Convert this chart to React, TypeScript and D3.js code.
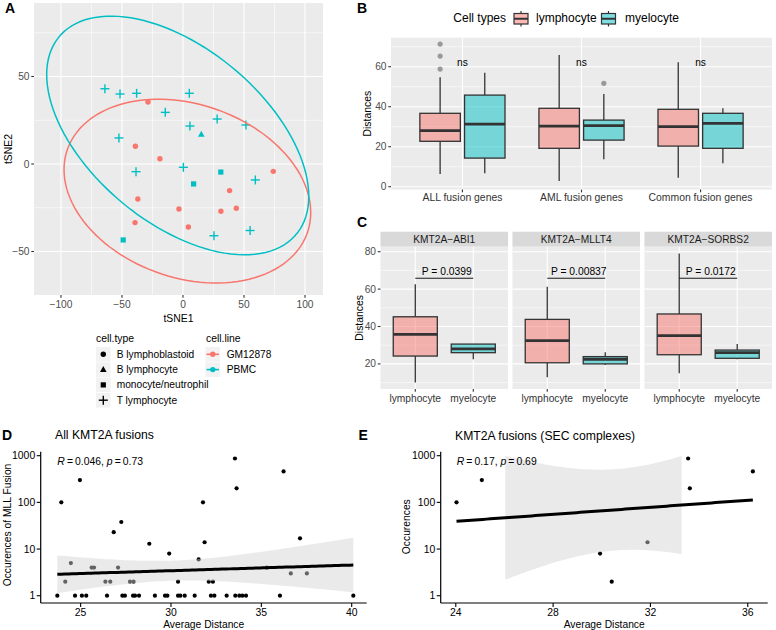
import React from "react";
import * as d3 from "d3";

const FONT = "'Liberation Sans', Arial, Helvetica, sans-serif";
const RED = "#F8766D";
const TEAL = "#00BFC4";
const PANEL_BG = "#EBEBEB";

// ---------------- Panel A data ----------------
const tsneX = [-64, -51.6, -38, 5.2, -14.5, 5.7, 28, 51.6, -52.5, -38.5, 0.3, 59.3, 25.4, 55,
  15, 31, 8.7, -49,
  -28.7, -39, -18.9, 74, 38.2, -37, -3.3, 31.1, 43.7, -39.3, 4.4];
const tsneY = [43, 40, 40.4, 40.4, 29.5, 21.7, 25.7, 22.3, 14.9, -4.4, -1.9, -9.1, -41, -38,
  17, -4.6, -11.4, -43.4,
  35.4, 10.1, 3.0, -4.2, -15.2, -20, -25.7, -27, -25.3, -33.5, -36];
const tsneType = [
  "T lymphocyte", "T lymphocyte", "T lymphocyte", "T lymphocyte", "T lymphocyte", "T lymphocyte", "T lymphocyte",
  "T lymphocyte", "T lymphocyte", "T lymphocyte", "T lymphocyte", "T lymphocyte", "T lymphocyte", "T lymphocyte",
  "B lymphocyte", "monocyte/neutrophil", "monocyte/neutrophil", "monocyte/neutrophil",
  "B lymphoblastoid", "B lymphoblastoid", "B lymphoblastoid", "B lymphoblastoid", "B lymphoblastoid", "B lymphoblastoid",
  "B lymphoblastoid", "B lymphoblastoid", "B lymphoblastoid", "B lymphoblastoid", "B lymphoblastoid"];
const tsneLine = [
  "PBMC", "PBMC", "PBMC", "PBMC", "PBMC", "PBMC", "PBMC", "PBMC", "PBMC", "PBMC", "PBMC", "PBMC", "PBMC", "PBMC",
  "PBMC", "PBMC", "PBMC", "PBMC",
  "GM12878", "GM12878", "GM12878", "GM12878", "GM12878", "GM12878", "GM12878", "GM12878", "GM12878", "GM12878", "GM12878"];
const cellTypes = ["B lymphoblastoid", "B lymphocyte", "monocyte/neutrophil", "T lymphocyte"];
const cellLines = ["GM12878", "PBMC"];
const tsneXTicks = [-100, -50, 0, 50, 100];
const tsneYTicks = [-50, 0, 50];
// 95% ellipses (centre and shape matrix, data units)
const ellLine = ["GM12878", "PBMC"];
const ellCx = [3.6, -4.3];
const ellCy = [-15.5, 16.3];
const ellSxx = [10221, 11535];
const ellSxy = [-1243.5, -3737.5];
const ellSyy = [2756, 4651];

// ---------------- Panel B data ----------------
const bCategories = ["ALL fusion genes", "AML fusion genes", "Common fusion genes"];
const bGroups = ["lymphocyte", "myelocyte"];
// [lower whisker, Q1, median, Q3, upper whisker]
const bLymph = [[6.3, 22.7, 28, 36.7, 54.7], [2.8, 19.2, 30.3, 39.2, 65.8], [4.5, 20.3, 30, 38.7, 62.2]];
const bMyelo = [[6.7, 14.3, 31.3, 45.8, 57], [13.7, 23.3, 30.5, 33.3, 46.3], [11.7, 19.2, 31.7, 36.7, 39.2]];
const bOutCat = [0, 0, 0, 1];
const bOutGroup = [0, 0, 0, 1];
const bOutVal = [58.8, 65.3, 71.3, 51.7];
const bSigLabels = ["ns", "ns", "ns"];
const bSigY = 62;
const bYTicks = [0, 20, 40, 60];

// ---------------- Panel C data ----------------
const cFacets = ["KMT2A\u2212ABI1", "KMT2A\u2212MLLT4", "KMT2A\u2212SORBS2"];
const cGroups = ["lymphocyte", "myelocyte"];
const cLymph = [[10, 24.2, 35.8, 45.2, 62.6], [12.8, 20.6, 32.4, 43.8, 61.3], [15, 24.9, 35.1, 46.7, 79.1]];
const cMyelo = [[22.5, 26, 28, 30.6, 30.6], [19.4, 20, 22.5, 23.9, 26.2], [22.5, 23, 26, 27.4, 30.6]];
const cPLabels = ["P = 0.0399", "P = 0.00837", "P = 0.0172"];
const cBracketY = 65.8;
const cYTicks = [20, 40, 60, 80];

// ---------------- Panel D data ----------------
const dDist = [23.93, 24.96, 26.83, 27.25, 28.8, 29.9, 31.53, 31.77, 31.86, 33.54, 33.63, 36.23, 37.14,
  24.15, 24.46, 25.61, 25.74, 26.37, 26.64, 27.07, 27.73, 27.93, 30.39, 32.09, 32.32, 35.3, 36.63, 37.52,
  23.71, 24.69, 25.07, 25.31, 26.46, 27.31, 27.45, 27.9, 28.01, 28.23, 29.11, 29.67, 29.8, 30.39, 30.52,
  30.76, 31.31, 32.21, 32.4, 33.08, 33.56, 33.78, 33.95, 34.15, 36.03, 40.09];
const dOcc = [100, 300, 23, 38, 13, 8, 6, 100, 14, 870, 200, 460, 17,
  2, 5, 4, 4, 2, 2, 4, 2, 2, 2, 2, 2, 4, 3, 3,
  1, 1, 1, 1, 1, 1, 1, 1, 1, 1, 1, 1, 1, 1, 1,
  1, 1, 1, 1, 1, 1, 1, 1, 1, 1, 1];
const dXTicks = [25, 30, 35, 40];

// ---------------- Panel E data ----------------
const eDist = [24.03, 25.07, 29.93, 30.41, 31.88, 33.55, 33.62, 36.21];
const eOcc = [100, 300, 8, 2, 14, 870, 200, 460];
const eXTicks = [24, 28, 32, 36];

const logYTicks = [1, 10, 100, 1000];
const occLimits = [1, 1000];

// ---------------- helpers ----------------
const fmtNum = (v: number) => (v < 0 ? "\u2212" + Math.abs(v) : String(v));

function tQuant975(df: number) {
  const z = 1.959964;
  const z3 = z ** 3, z5 = z ** 5, z7 = z ** 7, z9 = z ** 9;
  return z + (z3 + z) / (4 * df) + (5 * z5 + 16 * z3 + 3 * z) / (96 * df ** 2) +
    (3 * z7 + 19 * z5 + 17 * z3 - 15 * z) / (384 * df ** 3) +
    (79 * z9 + 776 * z7 + 1482 * z5 - 1920 * z3 - 945 * z) / (92160 * df ** 4);
}

function lmLog(xs: number[], ys: number[]) {
  const ly = ys.map((v) => Math.log10(v));
  const n = xs.length;
  const mx = d3.mean(xs) as number;
  const my = d3.mean(ly) as number;
  let sxx = 0, sxy = 0, syy = 0;
  xs.forEach((x, i) => {
    sxx += (x - mx) ** 2;
    sxy += (x - mx) * (ly[i] - my);
    syy += (ly[i] - my) ** 2;
  });
  const b = sxy / sxx;
  const a = my - b * mx;
  const s = Math.sqrt((syy - b * sxy) / (n - 2));
  const t = tQuant975(n - 2);
  const [x0, x1] = d3.extent(xs) as [number, number];
  return d3.range(80).map((i) => {
    const x = x0 + ((x1 - x0) * i) / 79;
    const f = a + b * x;
    const se = s * Math.sqrt(1 / n + (x - mx) ** 2 / sxx);
    return { x, f, lo: f - t * se, hi: f + t * se };
  });
}

function Shape({ type, x, y, color }: { type: string; x: number; y: number; color: string }) {
  if (type === "B lymphoblastoid") return <circle cx={x} cy={y} r={2.7} fill={color} />;
  if (type === "B lymphocyte")
    return <path d={`M${x},${y - 3.6}L${x + 3.3},${y + 2.4}L${x - 3.3},${y + 2.4}Z`} fill={color} />;
  if (type === "monocyte/neutrophil") return <rect x={x - 2.6} y={y - 2.6} width={5.2} height={5.2} fill={color} />;
  return (
    <g stroke={color} strokeWidth={1.4}>
      <line x1={x - 4.5} x2={x + 4.5} y1={y} y2={y} />
      <line x1={x} x2={x} y1={y - 4.5} y2={y + 4.5} />
    </g>
  );
}

function Box({ cx, w, s, y, fill }: { cx: number; w: number; s: number[]; y: (v: number) => number; fill: string }) {
  const [lo, q1, med, q3, hi] = s;
  return (
    <g>
      <line x1={cx} x2={cx} y1={y(hi)} y2={y(q3)} stroke="#333" strokeWidth={1.3} />
      <line x1={cx} x2={cx} y1={y(q1)} y2={y(lo)} stroke="#333" strokeWidth={1.3} />
      <rect x={cx - w / 2} y={y(q3)} width={w} height={y(q1) - y(q3)} fill={fill} fillOpacity={0.5}
        stroke="#333" strokeWidth={1.3} />
      <line x1={cx - w / 2} x2={cx + w / 2} y1={y(med)} y2={y(med)} stroke="#333" strokeWidth={2.8} />
    </g>
  );
}

export default function App() {
  // ---------- Panel A ----------
  const A = { l: 34, r: 323, t: 3, b: 295 };
  const xA = d3.scaleLinear().domain([-122.1, 114.75]).range([A.l, A.r]);
  const yA = d3.scaleLinear().domain([-74.86, 92]).range([A.b, A.t]);
  const xAMinor = tsneXTicks.slice(1).map((v, i) => (v + tsneXTicks[i]) / 2);
  const yAMinor = [...tsneYTicks.slice(1).map((v, i) => (v + tsneYTicks[i]) / 2), 75];
  const lineColor = (l: string) => (l === "GM12878" ? RED : TEAL);
  const ellipsePath = (i: number) => {
    const a = Math.sqrt(ellSxx[i]);
    const c = ellSxy[i] / a;
    const d = Math.sqrt(ellSyy[i] - c * c);
    const pts = d3.range(0, 121).map((k) => {
      const t = (2 * Math.PI * k) / 120;
      return [xA(ellCx[i] + a * Math.cos(t)), yA(ellCy[i] + c * Math.cos(t) + d * Math.sin(t))] as [number, number];
    });
    return (d3.line()(pts) as string) + "Z";
  };

  // ---------- Panel B ----------
  const B = { l: 391, r: 772, t: 37.7, b: 189.6 };
  const xB = d3.scaleLinear().domain([0.4, 3.6]).range([B.l, B.r]);
  const yB = d3.scaleLinear().domain([-1.45, 74.5]).range([B.b, B.t]);
  const bUnit = xB(1) - xB(0);
  const bMinor = [10, 30, 50, 70];

  // ---------- Panel C ----------
  const C = { l: 380.5, r: 772, t: 246.7, b: 389, stripT: 231.7, gap: 4.4 };
  const cW = (C.r - C.l - 2 * C.gap) / 3;
  const yC = d3.scaleLinear().domain([6.58, 82.67]).range([C.b, C.t]);
  const cMinor = [10, 30, 50, 70];

  // ---------- Panels D / E ----------
  const yLog = d3.scaleLog().domain([10 ** -0.156, 10 ** 3.0857]).range([603, 451.7]);
  const D = { l: 40.7, r: 366.7, t: 451.7, b: 603 };
  const xD = d3.scaleLinear().domain([22.79, 40.83]).range([D.l, D.r]);
  const E = { l: 440.7, r: 767.7, t: 451.7, b: 603 };
  const xE = d3.scaleLinear().domain([23.38, 36.82]).range([E.l, E.r]);
  const limLo = Math.log10(occLimits[0]);
  const limHi = Math.log10(occLimits[1]);

  const smoothLayer = (xs: number[], ys: number[], xs_: (v: number) => number) => {
    const fit = lmLog(xs, ys);
    const rib = fit.filter((p) => p.lo >= limLo && p.hi <= limHi);
    const area = d3.area<any>().x((p) => xs_(p.x)).y0((p) => yLog(10 ** p.lo)).y1((p) => yLog(10 ** p.hi));
    const line = d3.line<any>().x((p) => xs_(p.x)).y((p) => yLog(10 ** p.f));
    return (
      <g>
        {rib.length > 1 && <path d={area(rib) as string} fill="#d3d3d3" fillOpacity={0.47} />}
        <path d={line(fit) as string} fill="none" stroke="#000" strokeWidth={3} />
      </g>
    );
  };

  const scatterPanel = (P: any, xs_: any, xs: number[], ys: number[], xTicks: number[]) => (
    <g>
      {xs.map((x, i) => (
        <circle key={i} cx={xs_(x)} cy={yLog(ys[i])} r={2.1} fill="#000" />
      ))}
      {smoothLayer(xs, ys, xs_)}
      <line x1={P.l} x2={P.r} y1={P.b} y2={P.b} stroke="#000" strokeWidth={1.2} />
      <line x1={P.l} x2={P.l} y1={P.t} y2={P.b} stroke="#000" strokeWidth={1.2} />
      {xTicks.map((t) => (
        <g key={t}>
          <line x1={xs_(t)} x2={xs_(t)} y1={P.b} y2={P.b + 4} stroke="#000" strokeWidth={1.1} />
          <text x={xs_(t)} y={P.b + 9.5} dy="0.35em" textAnchor="middle" fontSize={10.4} fill="#000">{t}</text>
        </g>
      ))}
      {logYTicks.map((t) => (
        <g key={t}>
          <line x1={P.l - 4} x2={P.l} y1={yLog(t)} y2={yLog(t)} stroke="#000" strokeWidth={1.1} />
          <text x={P.l - 5.5} y={yLog(t)} dy="0.35em" textAnchor="end" fontSize={10.4} fill="#000">{t}</text>
        </g>
      ))}
      <text x={(P.l + P.r) / 2} y={624.3} dy="0.35em" textAnchor="middle" fontSize={10.3} fill="#000">Average Distance</text>
    </g>
  );

  return (
    <svg width={776} height={630} style={{ position: "absolute", left: 0, top: 0, background: "#fff" }}
      fontFamily={FONT}>
      <rect x={0} y={0} width={776} height={630} fill="#fff" />
      {/* ================= Panel A ================= */}
      <text x={5} y={12.5} fontSize={14} fontWeight="bold">A</text>
      <rect x={A.l} y={A.t} width={A.r - A.l} height={A.b - A.t} fill={PANEL_BG} />
      {xAMinor.map((v) => (
        <line key={"xm" + v} x1={xA(v)} x2={xA(v)} y1={A.t} y2={A.b} stroke="#fff" strokeWidth={0.55} />
      ))}
      {yAMinor.map((v) => (
        <line key={"ym" + v} x1={A.l} x2={A.r} y1={yA(v)} y2={yA(v)} stroke="#fff" strokeWidth={0.55} />
      ))}
      {tsneXTicks.map((v) => (
        <line key={"xM" + v} x1={xA(v)} x2={xA(v)} y1={A.t} y2={A.b} stroke="#fff" strokeWidth={1.1} />
      ))}
      {tsneYTicks.map((v) => (
        <line key={"yM" + v} x1={A.l} x2={A.r} y1={yA(v)} y2={yA(v)} stroke="#fff" strokeWidth={1.1} />
      ))}
      {tsneX.map((x, i) => (
        <Shape key={i} type={tsneType[i]} x={xA(x)} y={yA(tsneY[i])} color={lineColor(tsneLine[i])} />
      ))}
      {ellLine.map((l, i) => (
        <path key={l} d={ellipsePath(i)} fill="none" stroke={lineColor(l)} strokeWidth={1.5} />
      ))}
      {tsneXTicks.map((v) => (
        <g key={"xt" + v}>
          <line x1={xA(v)} x2={xA(v)} y1={A.b} y2={A.b + 2.7} stroke="#333" strokeWidth={1.1} />
          <text x={xA(v)} y={304.5} dy="0.35em" textAnchor="middle" fontSize={10.2} fill="#4D4D4D">{fmtNum(v)}</text>
        </g>
      ))}
      {tsneYTicks.map((v) => (
        <g key={"yt" + v}>
          <line x1={A.l - 2.7} x2={A.l} y1={yA(v)} y2={yA(v)} stroke="#333" strokeWidth={1.1} />
          <text x={A.l - 4.5} y={yA(v)} dy="0.35em" textAnchor="end" fontSize={10.2} fill="#4D4D4D">{fmtNum(v)}</text>
        </g>
      ))}
      <text x={(A.l + A.r) / 2} y={318} dy="0.35em" textAnchor="middle" fontSize={10.4}>tSNE1</text>
      <text transform={`translate(8.5,${(A.t + A.b) / 2}) rotate(-90)`} dy="0.35em" textAnchor="middle" fontSize={10.4}>tSNE2</text>
      {/* legends */}
      <text x={96} y={338} dy="0.35em" fontSize={10.4}>cell.type</text>
      {cellTypes.map((ct, i) => {
        const cy = 354.3 + i * 15.3;
        return (
          <g key={ct}>
            <rect x={96} y={cy - 7.3} width={14.6} height={14.6} fill="#F2F2F2" />
            <Shape type={ct} x={103.3} y={cy} color="#000" />
            <text x={116.7} y={cy} dy="0.35em" fontSize={10.2}>{ct}</text>
          </g>
        );
      })}
      <text x={206} y={338} dy="0.35em" fontSize={10.4}>cell.line</text>
      {cellLines.map((cl, i) => {
        const cy = 354.3 + i * 15.3;
        return (
          <g key={cl}>
            <rect x={205.5} y={cy - 7.3} width={14.6} height={14.6} fill="#F2F2F2" />
            <line x1={206.5} x2={219} y1={cy} y2={cy} stroke={lineColor(cl)} strokeWidth={1.6} />
            <circle cx={212.8} cy={cy} r={2.7} fill={lineColor(cl)} />
            <text x={226.7} y={cy} dy="0.35em" fontSize={10.2}>{cl}</text>
          </g>
        );
      })}

      {/* ================= Panel B ================= */}
      <text x={357} y={12.5} fontSize={14} fontWeight="bold">B</text>
      <text x={453.3} y={17.3} dy="0.35em" fontSize={12}>Cell types</text>
      {bGroups.map((g, i) => {
        const kx = i === 0 ? 514 : 601.5;
        const tx = i === 0 ? 536 : 625;
        const cx = kx + 7;
        return (
          <g key={g}>
            <line x1={cx} x2={cx} y1={11} y2={13.5} stroke="#333" strokeWidth={1.2} />
            <line x1={cx} x2={cx} y1={24} y2={26.5} stroke="#333" strokeWidth={1.2} />
            <rect x={kx} y={13.5} width={14} height={10.5} fill={i === 0 ? RED : TEAL} fillOpacity={0.5} stroke="#333" strokeWidth={1.2} />
            <line x1={kx} x2={kx + 14} y1={18.75} y2={18.75} stroke="#333" strokeWidth={2} />
            <text x={tx} y={17.3} dy="0.35em" fontSize={12}>{g}</text>
          </g>
        );
      })}
      <rect x={B.l} y={B.t} width={B.r - B.l} height={B.b - B.t} fill={PANEL_BG} />
      {bMinor.map((v) => (
        <line key={v} x1={B.l} x2={B.r} y1={yB(v)} y2={yB(v)} stroke="#fff" strokeWidth={0.55} />
      ))}
      {bYTicks.map((v) => (
        <line key={v} x1={B.l} x2={B.r} y1={yB(v)} y2={yB(v)} stroke="#fff" strokeWidth={1.1} />
      ))}
      {bCategories.map((c, i) => (
        <line key={c} x1={xB(i + 1)} x2={xB(i + 1)} y1={B.t} y2={B.b} stroke="#fff" strokeWidth={1.1} />
      ))}
      {bCategories.map((c, i) => (
        <g key={c}>
          <Box cx={xB(i + 1 - 0.1875)} w={0.34 * bUnit} s={bLymph[i]} y={yB} fill={RED} />
          <Box cx={xB(i + 1 + 0.1875)} w={0.34 * bUnit} s={bMyelo[i]} y={yB} fill={TEAL} />
          <text x={xB(i + 1)} y={yB(bSigY)} dy="0.35em" textAnchor="middle" fontSize={10.2}>{bSigLabels[i]}</text>
        </g>
      ))}
      {bOutVal.map((v, i) => (
        <circle key={i} cx={xB(bOutCat[i] + 1 + (bOutGroup[i] === 0 ? -0.1875 : 0.1875))} cy={yB(v)} r={2.6} fill="#999" />
      ))}
      {bCategories.map((c, i) => (
        <g key={c}>
          <line x1={xB(i + 1)} x2={xB(i + 1)} y1={B.b} y2={B.b + 2.7} stroke="#333" strokeWidth={1.1} />
          <text x={xB(i + 1)} y={197.5} dy="0.35em" textAnchor="middle" fontSize={10.4} fill="#333">{c}</text>
        </g>
      ))}
      {bYTicks.map((v) => (
        <g key={v}>
          <line x1={B.l - 2.7} x2={B.l} y1={yB(v)} y2={yB(v)} stroke="#333" strokeWidth={1.1} />
          <text x={B.l - 4.5} y={yB(v)} dy="0.35em" textAnchor="end" fontSize={10.2} fill="#4D4D4D">{v}</text>
        </g>
      ))}
      <text transform={`translate(367,${(B.t + B.b) / 2}) rotate(-90)`} dy="0.35em" textAnchor="middle" fontSize={10.4}>Distances</text>

      {/* ================= Panel C ================= */}
      <text x={357} y={226.5} fontSize={14} fontWeight="bold">C</text>
      {cFacets.map((f, k) => {
        const l = C.l + k * (cW + C.gap);
        const xC = d3.scaleLinear().domain([0.4, 2.6]).range([l, l + cW]);
        const unit = xC(1) - xC(0);
        return (
          <g key={f}>
            <rect x={l} y={C.stripT} width={cW} height={C.t - C.stripT} fill="#D9D9D9" />
            <text x={l + cW / 2} y={(C.stripT + C.t) / 2} dy="0.35em" textAnchor="middle" fontSize={10.2} fill="#1A1A1A">{f}</text>
            <rect x={l} y={C.t} width={cW} height={C.b - C.t} fill={PANEL_BG} />
            {cMinor.map((v) => (
              <line key={v} x1={l} x2={l + cW} y1={yC(v)} y2={yC(v)} stroke="#fff" strokeWidth={0.55} />
            ))}
            {cYTicks.map((v) => (
              <line key={v} x1={l} x2={l + cW} y1={yC(v)} y2={yC(v)} stroke="#fff" strokeWidth={1.1} />
            ))}
            {cGroups.map((g, j) => (
              <line key={g} x1={xC(j + 1)} x2={xC(j + 1)} y1={C.t} y2={C.b} stroke="#fff" strokeWidth={1.1} />
            ))}
            <Box cx={xC(1)} w={0.76 * unit} s={cLymph[k]} y={yC} fill={RED} />
            <Box cx={xC(2)} w={0.76 * unit} s={cMyelo[k]} y={yC} fill={TEAL} />
            <line x1={xC(1)} x2={xC(2)} y1={yC(cBracketY)} y2={yC(cBracketY)} stroke="#000" strokeWidth={0.9} />
            <text x={(xC(1) + xC(2)) / 2 + 2.5} y={yC(cBracketY) - 3} textAnchor="middle" fontSize={10.3}>{cPLabels[k]}</text>
            {cGroups.map((g, j) => (
              <g key={g}>
                <line x1={xC(j + 1)} x2={xC(j + 1)} y1={C.b} y2={C.b + 2.7} stroke="#333" strokeWidth={1.1} />
                <text x={xC(j + 1)} y={398.3} dy="0.35em" textAnchor="middle" fontSize={10.2} fill="#333">{g}</text>
              </g>
            ))}
          </g>
        );
      })}
      {cYTicks.map((v) => (
        <g key={v}>
          <line x1={C.l - 2.7} x2={C.l} y1={yC(v)} y2={yC(v)} stroke="#333" strokeWidth={1.1} />
          <text x={C.l - 4.5} y={yC(v)} dy="0.35em" textAnchor="end" fontSize={10.2} fill="#4D4D4D">{v}</text>
        </g>
      ))}
      <text transform={`translate(359,${(C.t + C.b) / 2}) rotate(-90)`} dy="0.35em" textAnchor="middle" fontSize={10.4}>Distances</text>

      {/* ================= Panel D ================= */}
      <text x={2} y={440} fontSize={14} fontWeight="bold">D</text>
      <text x={55} y={435} dy="0.35em" fontSize={12.2}>All KMT2A fusions</text>
      {scatterPanel(D, xD, dDist, dOcc, dXTicks)}
      <text x={57.3} y={461.7} dy="0.35em" fontSize={10.4}>
        <tspan fontStyle="italic">R</tspan>{"\u2009=\u20090.046, "}<tspan fontStyle="italic">p</tspan>{"\u2009=\u20090.73"}
      </text>
      <text transform={`translate(7.5,525) rotate(-90)`} dy="0.35em" textAnchor="middle" fontSize={10.3}>Occurences of MLL Fusion</text>

      {/* ================= Panel E ================= */}
      <text x={358.5} y={440} fontSize={14} fontWeight="bold">E</text>
      <text x={455} y={436} dy="0.35em" fontSize={12.2}>KMT2A fusions (SEC complexes)</text>
      {scatterPanel(E, xE, eDist, eOcc, eXTicks)}
      <text x={456.7} y={461.7} dy="0.35em" fontSize={10.4}>
        <tspan fontStyle="italic">R</tspan>{"\u2009=\u20090.17, "}<tspan fontStyle="italic">p</tspan>{"\u2009=\u20090.69"}
      </text>
      <text transform={`translate(406,526.7) rotate(-90)`} dy="0.35em" textAnchor="middle" fontSize={10.3}>Occurences</text>
    </svg>
  );
}
